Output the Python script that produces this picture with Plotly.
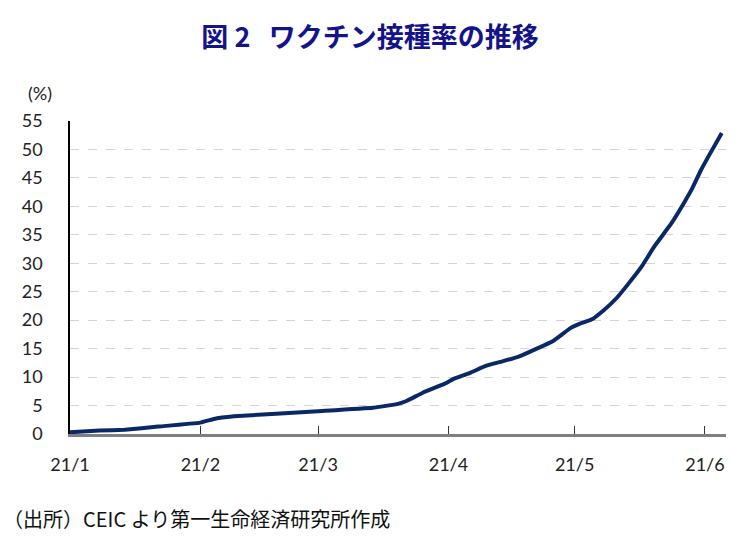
import plotly.graph_objects as go

dates = ["2021-01-01", "2021-01-08", "2021-01-14", "2021-01-22", "2021-02-01",
         "2021-02-04", "2021-02-09", "2021-03-01", "2021-03-14", "2021-03-20",
         "2021-03-22", "2021-03-26", "2021-03-31", "2021-04-02", "2021-04-06",
         "2021-04-10", "2021-04-14", "2021-04-18", "2021-04-22", "2021-04-26",
         "2021-04-30", "2021-05-02", "2021-05-05", "2021-05-08", "2021-05-11",
         "2021-05-14", "2021-05-17", "2021-05-20", "2021-05-24", "2021-05-27",
         "2021-05-29", "2021-05-31", "2021-06-02", "2021-06-05"]
rate = [0.3, 0.6, 0.75, 1.3, 2.0,
        2.6, 3.1, 4.0, 4.6, 5.3,
        5.8, 7.3, 8.8, 9.6, 10.7,
        12.0, 12.8, 13.7, 15.0, 16.4,
        18.6, 19.3, 20.1, 21.8, 23.9,
        26.6, 29.5, 33.0, 37.0, 40.6,
        43.2, 46.3, 49.0, 52.9]

tick_dates = ["2021-01-01", "2021-02-01", "2021-03-01", "2021-04-01", "2021-05-01", "2021-06-01"]
tick_labels = ["21/1", "21/2", "21/3", "21/4", "21/5", "21/6"]
y_ticks = list(range(0, 56, 5))

title_text = "図&nbsp;2&nbsp;&nbsp;&nbsp;ワクチン接種率の推移"
unit_text = "(%)"
source_text = "（出所）CEIC より第一生命経済研究所作成"

fig = go.Figure()
fig.add_trace(go.Scatter(
    x=dates, y=rate, mode="lines",
    line=dict(color="#0b2866", width=4, shape="spline", smoothing=0.3),
    showlegend=False,
))

fig.update_layout(
    width=740, height=538,
    margin=dict(l=70, r=14, t=121, b=104),
    paper_bgcolor="white", plot_bgcolor="white",
    title=dict(text=title_text, x=0.5, xanchor="center", y=1 - 38 / 538, yanchor="middle",
               font=dict(family="Noto Sans CJK JP", size=27, color="#14148a", weight="bold")),
    xaxis=dict(
        type="date", range=["2021-01-01", "2021-06-06"],
        tickvals=tick_dates, ticktext=tick_labels,
        ticks="inside", ticklen=8, tickwidth=1, tickcolor="#333333",
        showline=True, linecolor="#808080", linewidth=2.5,
        showgrid=False, zeroline=False,
        tickfont=dict(family="Lato", size=18, color="#222222"),
        ticklabelstandoff=13,
    ),
    yaxis=dict(
        range=[0, 55], tickvals=y_ticks,
        showline=True, linecolor="#000000", linewidth=1.5,
        showgrid=True, gridcolor="#d4d4d4", griddash="dash", gridwidth=1,
        zeroline=False, ticks="",
        tickfont=dict(family="Lato", size=18, color="#222222"),
        ticklabelstandoff=22,
    ),
)

fig.add_annotation(text=unit_text, xref="paper", yref="paper",
                   x=-0.045, y=1 + 28 / 313, xanchor="center", yanchor="middle",
                   showarrow=False, font=dict(family="Lato", size=18, color="#222222"))
fig.add_annotation(text=source_text, xref="paper", yref="paper",
                   x=-69 / 656, y=-(518 - 434) / 313, xanchor="left", yanchor="middle",
                   showarrow=False, font=dict(family="Noto Sans CJK JP", size=20, color="#111111"))

fig.write_html("out.html")
